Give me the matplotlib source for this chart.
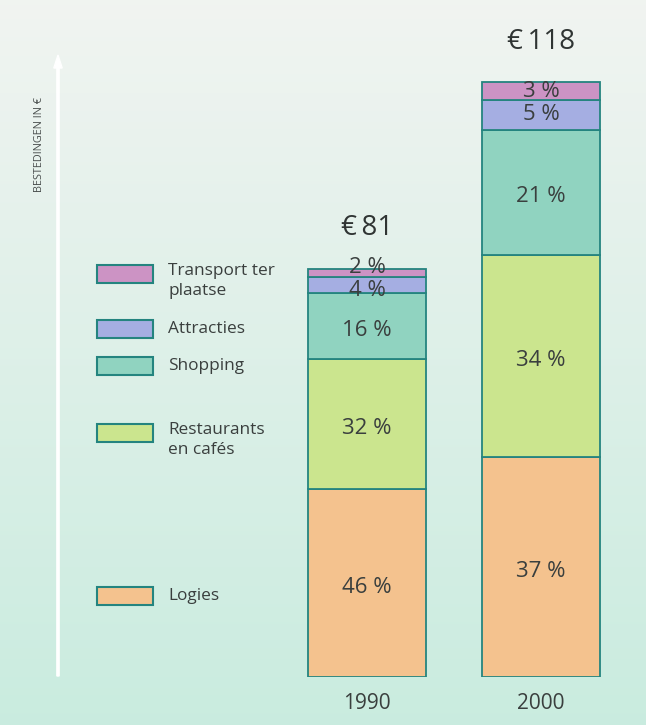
import numpy as np
import matplotlib.pyplot as plt
from matplotlib.patches import Rectangle, FancyArrow

plt.rcParams['font.family'] = ['Open Sans', 'DejaVu Sans']

# data
years = ['1990', '2000']
totals = [81, 118]
categories = ['Logies', 'Restaurants\nen cafés', 'Shopping', 'Attracties', 'Transport ter\nplaatse']
pct_1990 = [46, 32, 16, 4, 2]
pct_2000 = [37, 34, 21, 5, 3]
colors = ['#f4c28e', '#cbe58e', '#90d3c0', '#a5aee2', '#cc93c4']
edge = '#24847f'
txt = '#3a3f3e'

W, H = 646, 725
fig = plt.figure(figsize=(W / 100, H / 100), dpi=100)

# background gradient
bg = fig.add_axes([0, 0, 1, 1])
grad = np.linspace(0, 1, 256)[:, None] * np.ones((1, 2))
top = np.array([0.945, 0.957, 0.945])
bot = np.array([0.790, 0.925, 0.875])
img = top[None, None, :] * (1 - grad[..., None]) + bot[None, None, :] * grad[..., None]
bg.imshow(img, aspect='auto', extent=[0, 1, 0, 1])
bg.set_axis_off()


def fx(px):
    return px / W


def fy(py):
    return 1 - py / H


# main axes: y=0 at pixel 677, 5.04 px per euro
y0_px, px_per = 677, 5.04
ymax = 125
ax = fig.add_axes([0, fy(y0_px), 1, ymax * px_per / H])
ax.set_ylim(0, ymax)
ax.set_xlim(-367 / 174, 1 + (W - 541) / 174)
ax.set_axis_off()

# small vertical nudges (points) for the labels of the thin 1990 segments
nudge = {(0, 3): -4, (0, 4): 4}

for i, (tot, pcts) in enumerate(zip(totals, [pct_1990, pct_2000])):
    bottom = 0
    for j, (p, c) in enumerate(zip(pcts, colors)):
        h = tot * p / 100
        ax.bar(i, h, bottom=bottom, width=0.68, color=c, edgecolor=edge, linewidth=1.3)
        dy = nudge.get((i, j), -3 if h * px_per > 40 else 0)
        ax.annotate(f'{p} %', (i, bottom + h / 2), xytext=(0, dy),
                    textcoords='offset points', ha='center', va='center',
                    fontsize=16, color=txt)
        bottom += h
    ax.annotate(f'€\u2009{tot}', (i, tot), xytext=(0, 29), textcoords='offset points',
                ha='center', va='center', fontsize=20, color='#2f3433')
    ax.annotate(years[i], (i, 0), xytext=(0, -19), textcoords='offset points',
                ha='center', va='center', fontsize=15, color=txt)

# vertical white arrow
fig.add_artist(FancyArrow(fx(58), fy(676), 0, fy(55) - fy(676), width=0.0035,
                          head_width=0.013, head_length=0.018,
                          length_includes_head=True, color='white',
                          transform=fig.transFigure))
fig.text(fx(40), fy(145), 'BESTEDINGEN IN €', rotation=90, ha='center', va='center',
         fontsize=7.8, color='#4a4f4e')

# legend
leg_y = [596, 433, 366, 329, 274]
for lab, c, ly in zip(categories, colors, leg_y):
    fig.add_artist(Rectangle((fx(97), fy(ly + 9)), fx(56), 18 / H, facecolor=c,
                             edgecolor=edge, linewidth=1.5, transform=fig.transFigure))
    if '\n' in lab:
        fig.text(fx(168), fy(ly - 11), lab, ha='left', va='top', fontsize=12.4,
                 color=txt, linespacing=1.3)
    else:
        fig.text(fx(168), fy(ly), lab, ha='left', va='center', fontsize=12.4, color=txt)

fig.savefig('out.png', dpi=100)
